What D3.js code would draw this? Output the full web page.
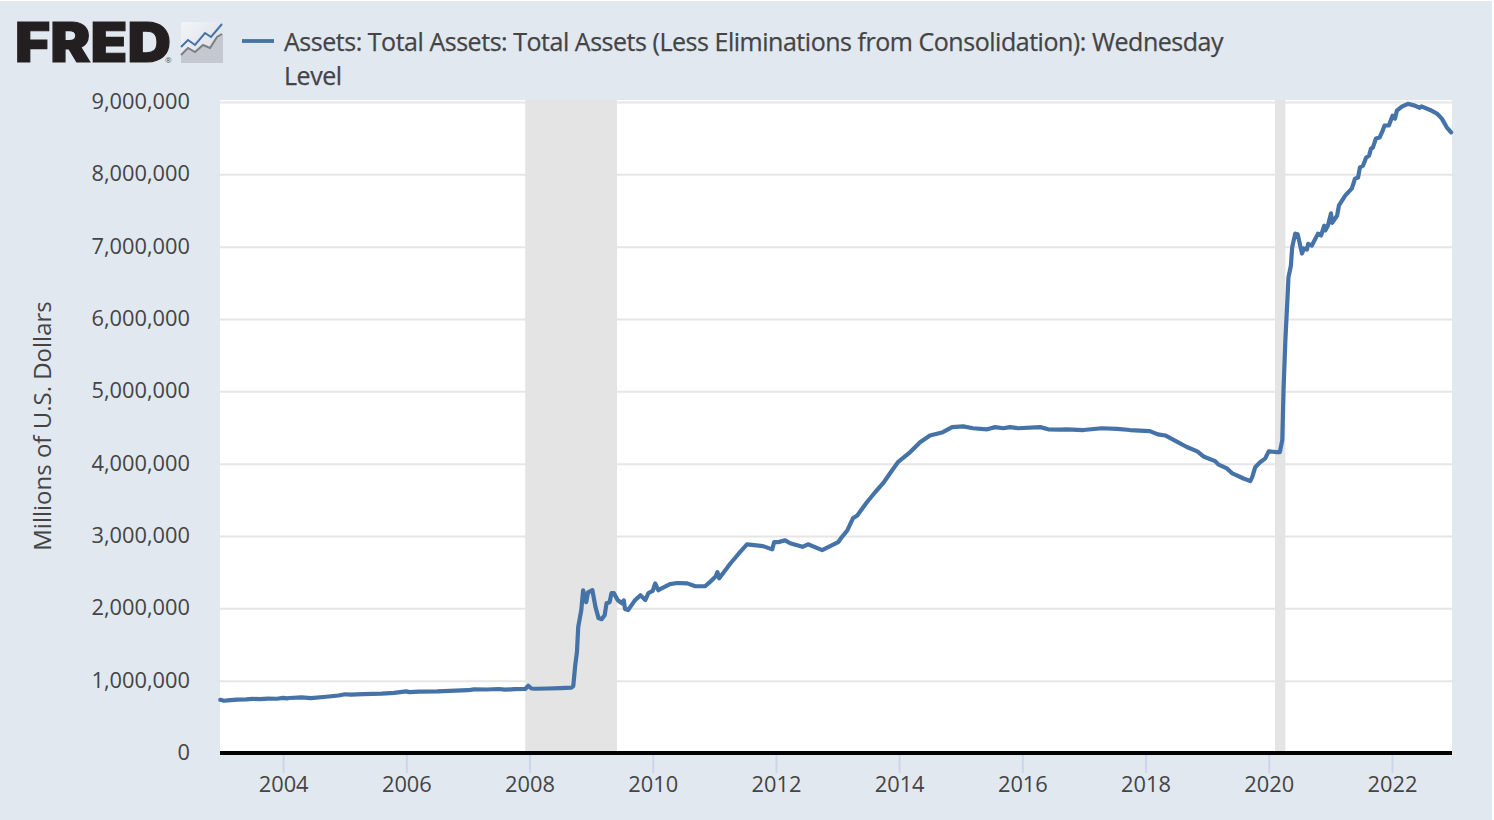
<!DOCTYPE html>
<html><head><meta charset="utf-8">
<script src="https://cdn.jsdelivr.net/npm/d3@7"></script>
<style>
html,body{margin:0;padding:0;background:#fff;overflow:hidden}
svg{display:block}
text{font-family:"Open Sans",sans-serif}
</style></head><body><div id="chart"></div>
<script>
const years=[2002.98,2003.04,2003.1,2003.25,2003.4,2003.5,2003.62,2003.75,2003.9,2004.0,2004.06,2004.1,2004.3,2004.45,2004.7,2004.9,2005.0,2005.1,2005.3,2005.6,2005.8,2006.0,2006.05,2006.2,2006.5,2006.8,2007.0,2007.1,2007.3,2007.5,2007.6,2007.75,2007.93,2007.98,2008.03,2008.1,2008.3,2008.5,2008.68,2008.71,2008.74,2008.77,2008.79,2008.84,2008.87,2008.92,2008.95,2009.02,2009.07,2009.12,2009.17,2009.22,2009.25,2009.3,2009.33,2009.37,2009.43,2009.5,2009.53,2009.55,2009.6,2009.71,2009.8,2009.88,2009.93,2010.0,2010.04,2010.09,2010.12,2010.28,2010.4,2010.56,2010.69,2010.85,2010.93,2011.02,2011.05,2011.08,2011.26,2011.42,2011.53,2011.79,2011.94,2011.97,2012.04,2012.15,2012.23,2012.43,2012.52,2012.75,2012.88,2013.01,2013.07,2013.16,2013.25,2013.32,2013.42,2013.48,2013.61,2013.74,2013.85,2013.98,2014.18,2014.34,2014.5,2014.71,2014.86,2015.04,2015.2,2015.43,2015.56,2015.69,2015.8,2015.93,2016.29,2016.42,2016.61,2016.73,2016.99,2017.29,2017.54,2017.75,2018.07,2018.2,2018.32,2018.53,2018.67,2018.84,2018.94,2019.13,2019.18,2019.32,2019.41,2019.59,2019.7,2019.73,2019.78,2019.86,2019.94,2020.0,2020.13,2020.18,2020.22,2020.24,2020.27,2020.3,2020.32,2020.36,2020.38,2020.43,2020.47,2020.54,2020.57,2020.62,2020.64,2020.7,2020.8,2020.85,2020.9,2020.92,2020.96,2021.01,2021.03,2021.11,2021.14,2021.21,2021.24,2021.35,2021.4,2021.45,2021.48,2021.53,2021.58,2021.63,2021.66,2021.69,2021.74,2021.8,2021.85,2021.88,2021.95,2022.01,2022.05,2022.08,2022.16,2022.26,2022.37,2022.45,2022.48,2022.62,2022.73,2022.81,2022.89,2022.96];
const assets=[735,722,728,738,742,748,745,752,750,762,755,760,768,758,778,795,812,806,815,822,832,852,842,848,852,862,868,880,878,885,875,882,885,930,892,888,892,898,905,925,1200,1400,1740,1975,2250,2085,2220,2250,2020,1865,1850,1905,2070,2085,2210,2210,2115,2070,2110,1990,1975,2110,2180,2115,2210,2240,2345,2250,2265,2335,2350,2345,2305,2305,2365,2440,2500,2415,2620,2780,2885,2860,2815,2915,2915,2940,2900,2850,2885,2805,2860,2915,2985,3080,3245,3285,3400,3470,3605,3730,3865,4020,4160,4295,4390,4435,4505,4515,4490,4475,4505,4490,4505,4490,4505,4475,4470,4475,4465,4490,4480,4465,4450,4405,4390,4295,4230,4170,4100,4035,3990,3935,3865,3795,3760,3810,3950,4020,4070,4170,4160,4160,4325,5015,5705,6215,6575,6740,6990,7180,7170,6905,6975,6960,7040,7015,7180,7155,7290,7225,7290,7460,7330,7430,7570,7665,7705,7805,7940,7955,8095,8120,8230,8260,8355,8370,8495,8510,8605,8675,8675,8810,8770,8880,8935,8975,8950,8920,8940,8890,8840,8770,8650,8580];
const recessionStarts=[2007.93,2020.1];
const recessionEnds=[2009.42,2020.27];
const xTicks=[2004,2006,2008,2010,2012,2014,2016,2018,2020,2022];
const yTicks=[0,1e6,2e6,3e6,4e6,5e6,6e6,7e6,8e6,9e6];
const legendLines=["Assets: Total Assets: Total Assets (Less Eliminations from Consolidation): Wednesday","Level"];
const yTitle="Millions of U.S. Dollars";

const W=1494,H=820,bg="#e1e8f0",lineColor="#4572a7",textColor="#444";
const svg=d3.select("#chart").append("svg").attr("width",W).attr("height",H);
svg.append("rect").attr("x",0).attr("y",1).attr("width",W-2).attr("height",H-1).attr("fill",bg);

const x=d3.scaleLinear().domain([2002.975,2022.975]).range([220,1452]);
const y=d3.scaleLinear().domain([0,9e6]).range([753,102]);

svg.append("rect").attr("x",220).attr("y",100).attr("width",1232).attr("height",653).attr("fill","#fff");

// y axis + grid
const gy=svg.append("g").attr("transform","translate(220,0)")
  .call(d3.axisLeft(y).tickValues(yTicks).tickSize(-1232).tickPadding(30).tickFormat(d3.format(",")));
gy.select(".domain").remove();
gy.selectAll(".tick line").attr("stroke","#e6e6e6").attr("stroke-width",2)
  .filter(d=>d===0).remove();
gy.selectAll(".tick text").attr("fill",textColor).attr("font-size",21.8).attr("x",-30).attr("dy","0.3em");

// recession bars above the gridlines
svg.append("g").selectAll("rect").data(recessionStarts).join("rect")
  .attr("x",d=>x(d)).attr("width",(d,i)=>x(recessionEnds[i])-x(d))
  .attr("y",100).attr("height",653).attr("fill","#e4e4e4");

// x axis
const gx=svg.append("g").attr("transform","translate(0,753)")
  .call(d3.axisBottom(x).tickValues(xTicks).tickSize(20).tickPadding(4).tickFormat(d3.format("d")));
gx.select(".domain").remove();
gx.selectAll(".tick line").attr("stroke","#ccd6eb").attr("stroke-width",2);
gx.selectAll(".tick text").attr("fill",textColor).attr("font-size",21.8);
svg.append("line").attr("x1",220).attr("x2",1452).attr("y1",753).attr("y2",753).attr("stroke","#000").attr("stroke-width",4);

// series
const line=d3.line().x((d,i)=>x(years[i])).y(d=>y(d*1000));
svg.append("path").datum(assets).attr("d",line).attr("fill","none")
  .attr("stroke",lineColor).attr("stroke-width",4.2).attr("stroke-linejoin","round").attr("stroke-linecap","round");

// y title
svg.append("text").attr("transform","translate(51,426) rotate(-90)").attr("text-anchor","middle")
  .attr("fill",textColor).attr("font-size",24).text(yTitle);

// legend
svg.append("line").attr("x1",242).attr("x2",274).attr("y1",41).attr("y2",41).attr("stroke",lineColor).attr("stroke-width",3.8);
svg.append("g").selectAll("text").data(legendLines).join("text")
  .attr("x",284).attr("y",(d,i)=>51+i*34).attr("fill",textColor).attr("font-size",25).attr("letter-spacing",-0.47)
  .attr("stroke",textColor).attr("stroke-width",0.25).text(d=>d);

// logo
svg.append("text").attr("x",15).attr("y",62).attr("font-size",55).attr("font-weight",900)
  .attr("fill","#231f20").attr("stroke","#231f20").attr("stroke-width",1.2)
  .attr("textLength",156).attr("lengthAdjust","spacingAndGlyphs")
  .style("font-family","Inter, 'Liberation Sans', sans-serif").text("FRED");
svg.append("text").attr("x",165).attr("y",63).attr("font-size",8).attr("fill","#555").text("®");
const defs=svg.append("defs");
const grad=defs.append("linearGradient").attr("id","logoBg").attr("x1",0).attr("y1",0).attr("x2",1).attr("y2",1);
grad.append("stop").attr("offset",0).attr("stop-color","#f3f5f8");
grad.append("stop").attr("offset",1).attr("stop-color","#d5dbe2");
const logo=svg.append("g").attr("transform","translate(181,22)");
logo.append("rect").attr("width",42).attr("height",41).attr("rx",3).attr("fill","url(#logoBg)");
logo.append("path").attr("d","M0 33L7 26L14 30L22 23L29 26L36 15L42 12V41H0Z").attr("fill","#c4c9cf");
logo.append("path").attr("d","M0 33L7 26L14 30L22 23L29 26L36 15L41 12").attr("fill","none").attr("stroke","#7b7f85").attr("stroke-width",2);
logo.append("path").attr("d","M0 25L7 18L14 23L24 11L30 15L41 2").attr("fill","none").attr("stroke","#4572a7").attr("stroke-width",2);
</script></body></html>
